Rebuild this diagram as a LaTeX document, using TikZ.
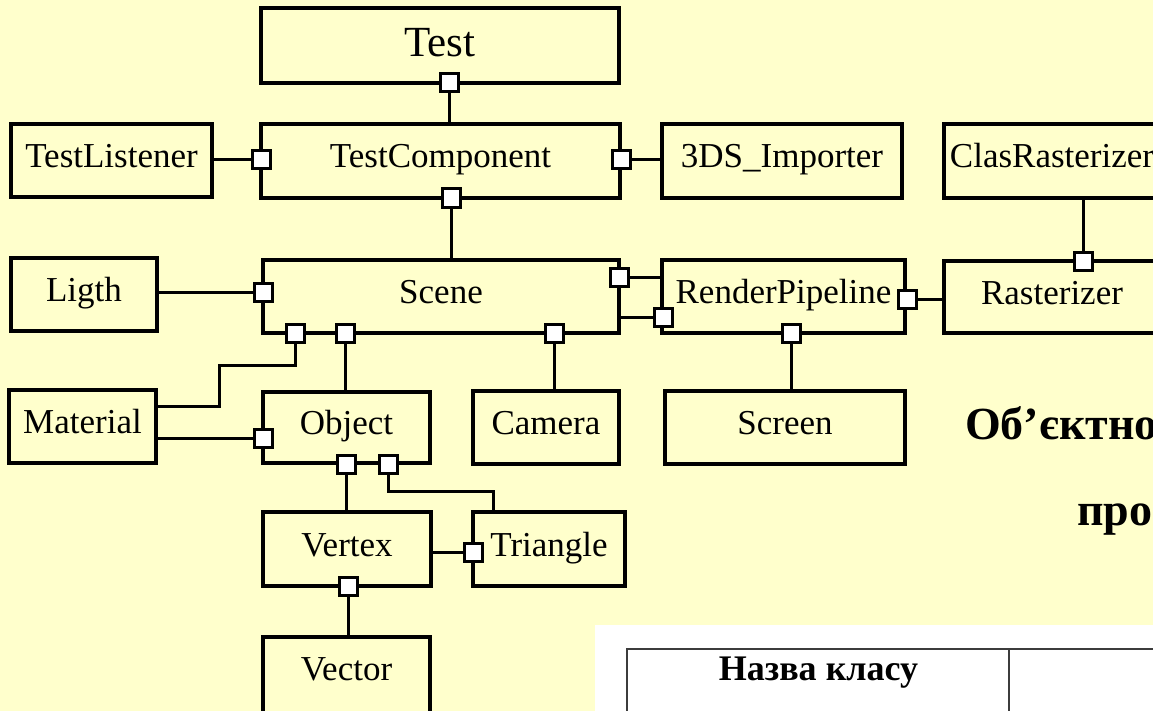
\documentclass[tikz,border=0pt]{standalone}
\usepackage{fontspec}
\setmainfont{Liberation Serif}
\definecolor{paper}{HTML}{FFFFCC}
\definecolor{rule}{HTML}{3C3C3C}
\begin{document}
\begin{tikzpicture}[x=1bp,y=-1bp,
  cls/.style={draw, line width=4bp, rectangle, inner sep=0pt, outer sep=0pt,
    text height=24bp, text depth=10bp,
    font=\fontsize{35bp}{40bp}\selectfont},
  % a port is placed first (for the connectors), its square is drawn last
  port/.style={rectangle, minimum size=18bp, inner sep=0pt, outer sep=0pt},
  portbox/.style={line width=3bp, fill=white},
  link/.style={line width=3bp},
  tab/.style={draw=rule, line width=2.5bp},
  title/.style={anchor=base west, inner sep=0pt,
    font=\bfseries\fontsize{46bp}{52bp}\selectfont}]

\useasboundingbox (0,0) rectangle (1153,711);
\clip (0,0) rectangle (1153,711);
\fill[paper] (0,0) rectangle (1153,711);

% class boxes
\node[cls, minimum width=358bp, minimum height=75bp, text height=30bp, text depth=7bp,
  font=\fontsize{43bp}{48bp}\selectfont] (test) at (440,45.5) {Test};
\node[cls, minimum width=201bp, minimum height=73bp] (listener) at (111.5,160.5) {TestListener};
\node[cls, minimum width=359bp, minimum height=74bp] (comp) at (440.5,161) {TestComponent};
\node[cls, minimum width=240bp, minimum height=74bp] (imp) at (782,161) {3DS\_Importer};
\node[cls, minimum width=216bp, minimum height=74bp] (clras) at (1052,161) {ClasRasterizer};
\node[cls, minimum width=146bp, minimum height=73bp] (light) at (84,294.5) {Ligth};
\node[cls, minimum width=356bp, minimum height=73bp] (scene) at (441,296.5) {Scene};
\node[cls, minimum width=243bp, minimum height=73bp] (pipe) at (783.5,296.5) {RenderPipeline};
\node[cls, minimum width=216bp, minimum height=72bp] (ras) at (1052,297) {Rasterizer};
\node[cls, minimum width=147bp, minimum height=73bp] (mat) at (82.5,426.5) {Material};
\node[cls, minimum width=167bp, minimum height=71bp] (obj) at (346.5,427.5) {Object};
\node[cls, minimum width=146bp, minimum height=73bp] (cam) at (546,427.5) {Camera};
\node[cls, minimum width=240bp, minimum height=73bp] (screen) at (785,427.5) {Screen};
\node[cls, minimum width=168bp, minimum height=74bp] (vertex) at (347,549) {Vertex};
\node[cls, minimum width=152bp, minimum height=74bp] (tri) at (549,549) {Triangle};
\node[cls, minimum width=167bp, minimum height=80bp, text height=24bp, text depth=18bp]
  (vec) at (346.5,677) {Vector};

% ports
\node[port] (pTest)  at (449,83)  {};
\node[port] (pCompL) at (261,160) {};
\node[port] (pCompR) at (621,160) {};
\node[port] (pCompB) at (451,198) {};
\node[port] (pSceL)  at (263,292) {};
\node[port] (pSceM)  at (295,333) {};
\node[port] (pSceO)  at (345,333) {};
\node[port] (pSceC)  at (554,333) {};
\node[port] (pSceR)  at (619,277) {};
\node[port] (pPipL)  at (663,317) {};
\node[port] (pPipR)  at (907,299) {};
\node[port] (pPipB)  at (791,333) {};
\node[port] (pRasT)  at (1083,261) {};
\node[port] (pObjL)  at (263,438) {};
\node[port] (pObjV)  at (346,464) {};
\node[port] (pObjT)  at (388,464) {};
\node[port] (pTriL)  at (473,552) {};
\node[port] (pVerB)  at (348,586) {};

% bends of the routed connectors
\coordinate (matBend) at (219,365);
\coordinate (matEnd)  at (219,406);
\coordinate (triBend) at (493,491);

% connectors
\draw[link] (pTest.south) -- (pTest |- comp.north);
\draw[link] (listener.east |- pCompL) -- (pCompL.west);
\draw[link] (pCompR.east) -- (pCompR -| imp.west);
\draw[link] (pCompB.south) -- (pCompB |- scene.north);
\draw[link] (light.east |- pSceL) -- (pSceL.west);
\draw[link] (pSceM.south) |- (matBend) -- (matEnd) -- (matEnd -| mat.east);
\draw[link] (pSceO.south) -- (pSceO |- obj.north);
\draw[link] (pSceC.south) -- (pSceC |- cam.north);
\draw[link] (pSceR.east) -- (pSceR -| pipe.west);
\draw[link] (pPipL -| scene.east) -- (pPipL.west);
\draw[link] (pPipR.east) -- (pPipR -| ras.west);
\draw[link] (pPipB.south) -- (pPipB |- screen.north);
\draw[link] (pRasT.north) -- (pRasT |- clras.south);
\draw[link] (mat.east |- pObjL) -- (pObjL.west);
\draw[link] (pObjV.south) -- (pObjV |- vertex.north);
\draw[link] (pObjT.south) |- (triBend) -- (triBend |- tri.north);
\draw[link] (vertex.east |- pTriL) -- (pTriL.west);
\draw[link] (pVerB.south) -- (pVerB |- vec.north);

% port squares on top of the box borders and connector ends
\foreach \p in {pTest,pCompL,pCompR,pCompB,pSceL,pSceM,pSceO,pSceC,pSceR,
                pPipL,pPipR,pPipB,pRasT,pObjL,pObjV,pObjT,pTriL,pVerB}
  \draw[portbox] (\p.south west) rectangle (\p.north east);

% heading
\node[title] (head1) at (965,439) {Об’єктно};
\node[title] (head2) at (1077,525) {про};

% class table
\fill[white] (595,625) rectangle (1160,720);
\draw[tab] (627,720) -- (627,649) -- (1160,649);
\draw[tab] (1009,649) -- (1009,720);
\node[anchor=base, inner sep=0pt, font=\bfseries\fontsize{36bp}{40bp}\selectfont]
  (colname) at (818.5,680) {Назва класу};
\end{tikzpicture}
\end{document}
